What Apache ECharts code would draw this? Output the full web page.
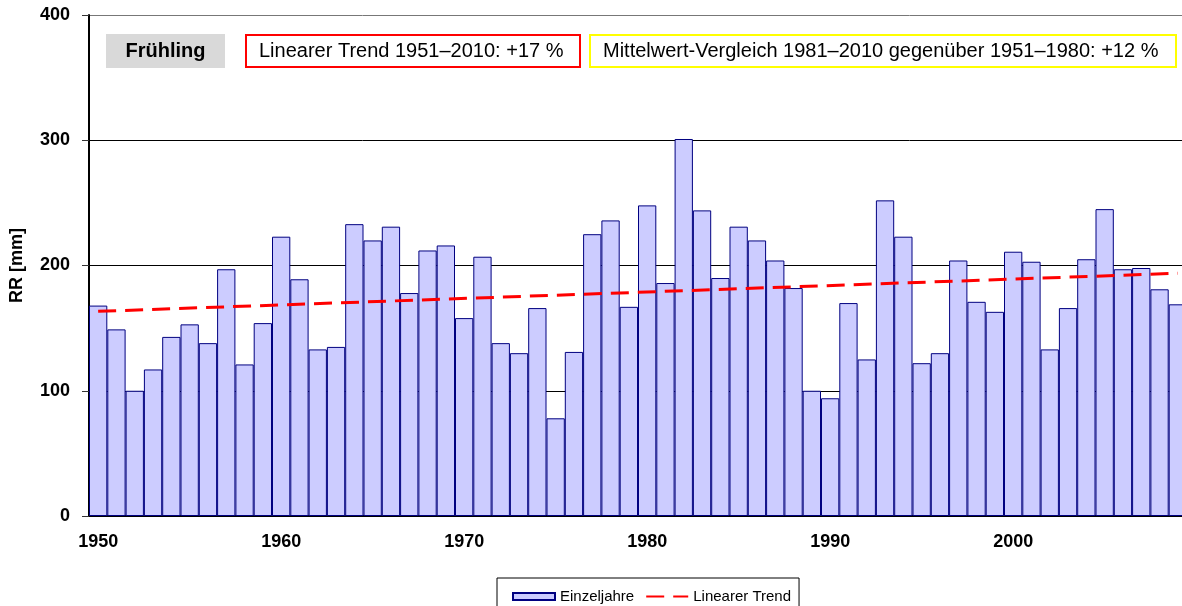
<!DOCTYPE html>
<html>
<head>
<meta charset="utf-8">
<script src="https://cdn.jsdelivr.net/npm/echarts@6/dist/echarts.min.js"></script>
<style>
  html, body { margin: 0; padding: 0; background: #fff; }
  #chart { width: 1182px; height: 606px; }
</style>
</head>
<body>
<div id="chart"></div>
<script>
// Jahre (Kategorien, wie auf der Achse beschriftet)
var years = ['1950','1951','1952','1953','1954','1955','1956','1957','1958','1959',
  '1960','1961','1962','1963','1964','1965','1966','1967','1968','1969',
  '1970','1971','1972','1973','1974','1975','1976','1977','1978','1979',
  '1980','1981','1982','1983','1984','1985','1986','1987','1988','1989',
  '1990','1991','1992','1993','1994','1995','1996','1997','1998','1999',
  '2000','2001','2002','2003','2004','2005','2006','2007','2008','2009'];

// Niederschlag Frühling RR [mm], Einzeljahre
var einzeljahre = [168, 149, 100, 117, 143, 153, 138, 197, 121, 154,
  223, 189, 133, 135, 233, 220, 231, 178, 212, 216,
  158, 207, 138, 130, 166, 78, 131, 225, 236, 167,
  248, 186, 301, 244, 190, 231, 220, 204, 182, 100,
  94, 170, 125, 252, 223, 122, 130, 204, 171, 163,
  211, 203, 133, 166, 205, 245, 197, 198, 181, 169];

// Linearer Trend: Anfangs- und Endwert (erster und letzter Balken)
var trendStart = 163.4;
var trendEnd = 193.8;

var yTicks = [0, 100, 200, 300, 400];

var FONT = 'Liberation Sans, Arial, sans-serif';

var chart = echarts.init(document.getElementById('chart'));

var option = {
  animation: false,
  backgroundColor: '#fff',
  textStyle: { fontFamily: FONT, color: '#000' },
  grid: { left: 89, top: 15, width: 1098, height: 501, outerBoundsMode: 'none', containLabel: false },
  legend: {
    left: 497,
    top: 578,
    padding: [11, 8, 8, 15],
    borderColor: '#000',
    borderWidth: 1,
    itemWidth: 42,
    itemHeight: 7,
    itemGap: 11,
    textStyle: { fontFamily: FONT, fontSize: 15, color: '#000' },
    data: [
      { name: 'Einzeljahre', icon: 'rect' },
      { name: 'Linearer Trend', itemStyle: { opacity: 0 } }
    ]
  },
  xAxis: {
    type: 'category',
    data: years,
    boundaryGap: true,
    axisLine: { lineStyle: { color: '#000', width: 2 } },
    axisTick: { interval: 4, length: 6, lineStyle: { color: '#333', width: 1 } },
    axisLabel: {
      interval: 9,
      margin: 17,
      fontFamily: FONT,
      fontSize: 18,
      fontWeight: 'bold',
      color: '#000'
    },
    splitLine: { show: false }
  },
  yAxis: {
    type: 'value',
    min: yTicks[0],
    max: yTicks[yTicks.length - 1],
    interval: 100,
    name: 'RR [mm]',
    nameLocation: 'middle',
    nameGap: 63,
    nameTextStyle: { fontFamily: FONT, fontSize: 18, fontWeight: 'bold', color: '#000' },
    axisLine: { show: true, lineStyle: { color: '#000', width: 2 } },
    axisTick: { show: true, length: 7, lineStyle: { color: '#333', width: 1 } },
    axisLabel: {
      margin: 19,
      fontFamily: FONT,
      fontSize: 18,
      fontWeight: 'bold',
      color: '#000'
    },
    splitLine: {
      show: true,
      lineStyle: { color: ['#000', '#000', '#000', '#000', '#777'], width: 1 }
    }
  },
  series: [
    {
      name: 'Einzeljahre',
      type: 'bar',
      data: einzeljahre,
      barCategoryGap: '0%',
      itemStyle: { color: '#CCCCFF', borderColor: '#000080', borderWidth: 1 }
    },
    {
      name: 'Linearer Trend',
      type: 'line',
      data: [[0, trendStart], [years.length - 1, trendEnd]],
      symbol: 'none',
      z: 5,
      lineStyle: { color: '#FF0000', width: 3, type: [18, 9] },
      itemStyle: { color: '#FF0000' }
    }
  ],
  graphic: [
    {
      type: 'group',
      left: 106,
      top: 34,
      children: [
        { type: 'rect', shape: { x: 0, y: 0, width: 119, height: 34 }, style: { fill: '#D9D9D9' } },
        {
          type: 'text', x: 59.5, y: 17,
          style: { text: 'Frühling', fill: '#000', font: 'bold 20px ' + FONT, align: 'center', verticalAlign: 'middle' }
        }
      ]
    },
    {
      type: 'group',
      left: 245,
      top: 34,
      children: [
        { type: 'rect', shape: { x: 1, y: 1, width: 334, height: 32 }, style: { fill: '#fff', stroke: '#FF0000', lineWidth: 2 } },
        {
          type: 'text', x: 14, y: 17,
          style: { text: 'Linearer Trend 1951–2010: +17 %', fill: '#000', font: '20px ' + FONT, align: 'left', verticalAlign: 'middle' }
        }
      ]
    },
    {
      type: 'group',
      left: 589,
      top: 34,
      children: [
        { type: 'rect', shape: { x: 1, y: 1, width: 586, height: 32 }, style: { fill: '#fff', stroke: '#FFFF00', lineWidth: 2 } },
        {
          type: 'text', x: 14, y: 17,
          style: { text: 'Mittelwert-Vergleich 1981–2010 gegenüber 1951–1980: +12 %', fill: '#000', font: '20px ' + FONT, align: 'left', verticalAlign: 'middle' }
        }
      ]
    }
  ]
};

chart.setOption(option);
</script>
</body>
</html>
